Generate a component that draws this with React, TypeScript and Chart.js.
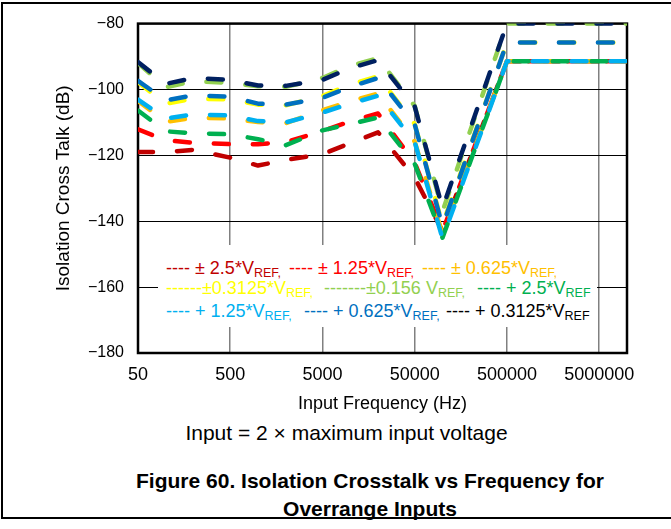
import React, { useEffect, useRef } from "react";
import { Chart, registerables } from "chart.js";

Chart.register(...registerables);

// ---------- data ----------
const frequencies = [50, 100, 200, 500, 1000, 2000, 5000, 10000, 20000, 50000, 100000, 500000, 1000000, 2000000, 5000000, 10000000];
const xTickValues = [50, 500, 5000, 50000, 500000, 5000000];

const pm2p5 = [-119, -119, -118.3, -120.7, -123.1, -121.4, -119.6, -116.3, -113, -126.8, -143, -91.4, -91.4, -91.4, -91.4, -91.4];
const pm1p25 = [-112.1, -115.4, -116.2, -116.6, -116.6, -116, -112.6, -109.7, -107.3, -122.3, -143, -91.4, -91.4, -91.4, -91.4, -91.4];
const pm0p625 = [-103.5, -109.8, -108.6, -108.8, -109.9, -110.2, -106.3, -103.6, -101.2, -115.8, -144, -91.4, -91.4, -91.4, -91.4, -91.4];
const pm0p3125 = [-97.8, -104.3, -102.8, -103, -104.6, -104.8, -102, -98.5, -96, -110.5, -141, -85.7, -85.7, -85.7, -85.7, -85.7];
const pm0p156 = [-92, -99.3, -97.5, -98, -99, -99.2, -96.5, -92.8, -90.5, -105, -137, -80, -80, -80, -80, -80];
const p2p5 = [-106.4, -112.7, -113.3, -113.6, -115.1, -116.9, -112.4, -110.5, -108.5, -122.6, -145, -91.4, -91.4, -91.4, -91.4, -91.4];
const p1p25 = [-103.1, -108.8, -107.6, -107.9, -109.6, -110, -107, -104.3, -101.9, -116, -145.2, -91.4, -91.4, -91.4, -91.4, -91.4];
const p0p625 = [-97.4, -103.3, -101.8, -102.2, -104.3, -104.6, -102.5, -99.2, -96.5, -110.6, -141.5, -85.7, -85.7, -85.7, -85.7, -85.7];
const p0p3125 = [-91.7, -98.3, -96.5, -97.1, -98.8, -98.9, -97.1, -93.5, -91.1, -105.2, -136, -80, -80, -80, -80, -80];

const seriesValues = [pm2p5, pm1p25, pm0p625, pm0p3125, pm0p156, p2p5, p1p25, p0p625, p0p3125];
const legendMain = ["---- ± 2.5*V", "---- ± 1.25*V", "---- ± 0.625*V", "------±0.3125*V", "-------±0.156 V", "---- + 2.5*V", "---- + 1.25*V", "---- + 0.625*V", "---- + 0.3125*V"];
const legendSub = ["REF,", "REF,", "REF,", "REF,", "REF,", "REF", "REF,", "REF,", "REF"];

// ---------- styles ----------
const lineColors = ["#C00000", "#FF0000", "#FFC000", "#FFFF00", "#92D050", "#00B050", "#00B0F0", "#0070C0", "#002060"];
const textColors = ["#C00000", "#FF0000", "#FFC000", "#FFFF00", "#92D050", "#00B050", "#00B0F0", "#0070C0", "#000000"];
const legendPos: [number, number][] = [
  [166, 257.5], [289, 257.5], [422, 257.5],
  [166, 277.5], [324, 277.5], [477, 277.5],
  [166, 300.5], [304, 300.5], [446, 300.5],
];
const FONT = "'Liberation Sans', Arial, sans-serif";

const framePlugin = {
  id: "frame",
  beforeDatasetsDraw(chart: any) {
    const { ctx, chartArea } = chart;
    ctx.save();
    ctx.strokeStyle = "#000";
    ctx.lineWidth = 2.5;
    ctx.strokeRect(chartArea.left, chartArea.top, chartArea.right - chartArea.left, chartArea.bottom - chartArea.top);
    ctx.restore();
  },
};

export default function App() {
  const ref = useRef<HTMLCanvasElement>(null);

  useEffect(() => {
    const canvas = ref.current!;
    const chart = new Chart(canvas, {
      type: "line",
      data: {
        datasets: seriesValues.map((vals, i) => ({
          label: legendMain[i] + legendSub[i],
          data: frequencies.map((f, j) => ({ x: f, y: vals[j] })),
          borderColor: lineColors[i],
          backgroundColor: lineColors[i],
          borderWidth: 4.5,
          borderDash: [15, 24],
          borderCapStyle: "round",
          borderJoinStyle: "round",
          pointRadius: 0,
          fill: false,
          tension: 0,
          order: seriesValues.length - 1 - i,
        })),
      },
      options: {
        responsive: false,
        animation: false,
        devicePixelRatio: 1,
        layout: { padding: { left: 0, top: 20, right: 44, bottom: 0 } },
        plugins: { legend: { display: false }, tooltip: { enabled: false } },
        scales: {
          x: {
            type: "logarithmic",
            min: 50,
            max: 10000000,
            afterBuildTicks: (scale: any) => {
              scale.ticks = xTickValues.map((v) => ({ value: v }));
            },
            afterFit: (scale: any) => {
              scale.height = 67;
            },
            ticks: {
              callback: (v: any) => String(v),
              color: "#000",
              font: { family: FONT, size: 18 },
              padding: 11,
              autoSkip: false,
              maxRotation: 0,
            },
            grid: { color: "#808080", lineWidth: 1.5, drawTicks: false },
            border: { display: false },
            title: {
              display: true,
              text: "Input Frequency (Hz)",
              color: "#000",
              font: { family: FONT, size: 18 },
              padding: { top: 0, bottom: 5 },
            },
          },
          y: {
            type: "linear",
            min: -180,
            max: -80,
            afterFit: (scale: any) => {
              scale.width = 138;
            },
            ticks: {
              stepSize: 20,
              callback: (v: any) => (v < 0 ? "\u2212" + Math.abs(v) : String(v)),
              color: "#000",
              font: { family: FONT, size: 16 },
              padding: 14,
            },
            grid: { color: "#000", lineWidth: 1, drawTicks: false },
            border: { display: false },
            title: {
              display: true,
              text: "Isolation Cross Talk (dB)",
              color: "#000",
              font: { family: FONT, size: 19 },
              padding: { top: 52, bottom: 0 },
            },
          },
        },
      },
      plugins: [framePlugin],
    } as any);
    return () => chart.destroy();
  }, []);

  return (
    <div style={{ position: "fixed", left: 0, top: 0, width: 671, height: 529, background: "#fff", overflow: "hidden", fontFamily: FONT }}>
      <div
        style={{
          position: "absolute",
          left: 1,
          top: 2,
          width: 720,
          height: 513,
          borderTop: "2px solid #000",
          borderLeft: "2px solid #000",
          borderBottom: "2px solid #000",
        }}
      />
      <canvas ref={ref} width={671} height={420} style={{ position: "absolute", left: 0, top: 0, width: 671, height: 420 }} />
      <div style={{ position: "absolute", left: 158, top: 245, width: 439, height: 82, background: "#fff" }} />
      {legendMain.map((t, i) => (
        <div
          key={i}
          style={{
            position: "absolute",
            left: legendPos[i][0],
            top: legendPos[i][1],
            fontSize: 18,
            lineHeight: "20px",
            whiteSpace: "nowrap",
            color: textColors[i],
          }}
        >
          {t}
          <span style={{ fontSize: 12.5, verticalAlign: "-3px" }}>{legendSub[i]}</span>
        </div>
      ))}
      <div style={{ position: "absolute", left: 0, width: 693, top: 421, textAlign: "center", fontSize: 21, lineHeight: "24px", color: "#000" }}>
        Input = 2 × maximum input voltage
      </div>
      <div style={{ position: "absolute", left: 0, width: 740, top: 467, textAlign: "center", fontSize: 21, lineHeight: "28px", fontWeight: "bold", color: "#000" }}>
        Figure 60. Isolation Crosstalk vs Frequency for
        <br />
        Overrange Inputs
      </div>
    </div>
  );
}
